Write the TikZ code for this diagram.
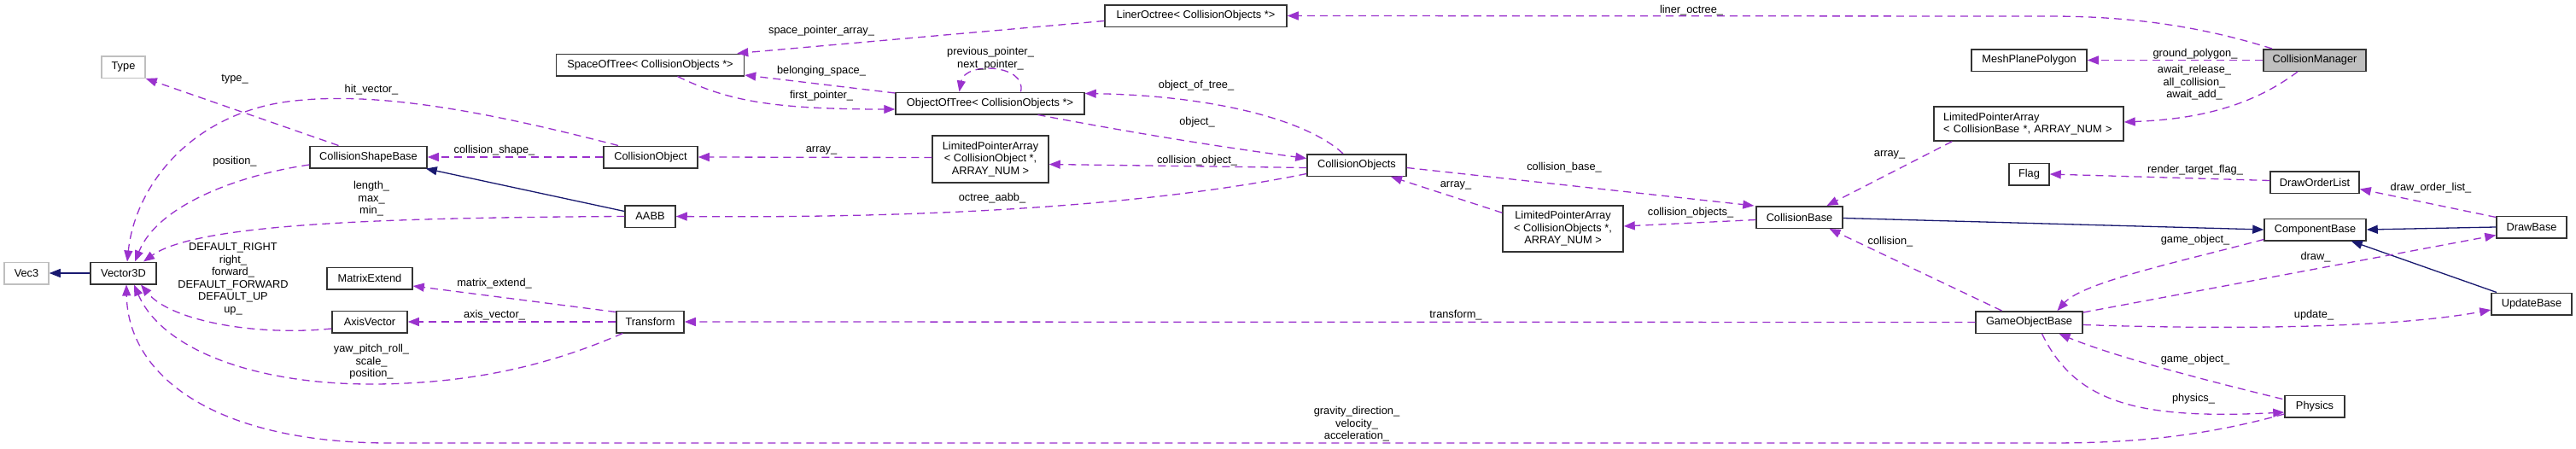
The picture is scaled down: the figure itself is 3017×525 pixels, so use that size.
\documentclass[tikz,border=0pt]{standalone}
\usepackage{fontspec}
\setmainfont{Liberation Sans}
\usetikzlibrary{arrows.meta,calc}
\definecolor{dpurple}{HTML}{9A32CD}
\definecolor{navyc}{HTML}{191970}
\definecolor{greyseventyfive}{HTML}{BFBFBF}
\newcommand{\dgfont}{\fontsize{12.8}{14.5}\selectfont}
\begin{document}
\begin{tikzpicture}[x=1pt,y=-1pt,
 box/.style={draw=black!80, line width=1.5pt, fill=white, inner sep=0pt, minimum height=25.5pt, font=\dgfont, align=center},
 gbox/.style={box, draw=greyseventyfive},
 lbl/.style={font=\dgfont, align=center, inner sep=0pt},
 mem/.style={draw=dpurple, line width=1.3pt, dash pattern=on 9pt off 6pt, -{Triangle[length=13pt,width=10pt]}},
 inh/.style={draw=navyc, line width=1.3pt, -{Triangle[length=13pt,width=10pt]}},
]
\fill[white] (0,0) rectangle (3017,525);
\useasboundingbox (0,0) rectangle (3017,525);

% nodes
\node[gbox, minimum width=52] (vec3) at (31,320) {Vec3};
\node[box, minimum width=77] (v3d) at (144.5,320) {Vector3D};
\node[gbox, minimum width=51] (type) at (144.5,78.5) {Type};
\node[box, minimum width=137] (csb) at (431.5,184) {CollisionShapeBase};
\node[box, minimum width=100] (mext) at (433,326) {MatrixExtend};
\node[box, minimum width=88] (axv) at (433,377) {AxisVector};
\node[box, minimum width=220] (sot) at (761.5,76) {SpaceOfTree< CollisionObjects *>};
\node[box, minimum width=110] (cobj) at (762,184) {CollisionObject};
\node[box, minimum width=59] (aabb) at (761.5,253.5) {AABB};
\node[box, minimum width=79] (trf) at (761.5,377) {Transform};
\node[box, minimum width=213] (lot) at (1400.5,18.5) {LinerOctree< CollisionObjects *>};
\node[box, minimum width=221] (oot) at (1159.5,121) {ObjectOfTree< CollisionObjects *>};
\node[box, minimum width=136, minimum height=55] (lpaco) at (1160,186.5) {LimitedPointerArray\\< CollisionObject *,\\ ARRAY\_NUM >};
\node[box, minimum width=116] (cos) at (1589,193.5) {CollisionObjects};
\node[box, minimum width=141, minimum height=54] (lpacos) at (1830.5,268) {LimitedPointerArray\\< CollisionObjects *,\\ ARRAY\_NUM >};
\node[box, minimum width=101] (cb) at (2107.5,254.5) {CollisionBase};
\node[box, minimum width=222, minimum height=40, text width=200, align=left] (lpacb) at (2376,145) {LimitedPointerArray\\< CollisionBase *, ARRAY\_NUM >};
\node[box, minimum width=135] (mpp) at (2376.5,70.5) {MeshPlanePolygon};
\node[box, minimum width=120, fill=greyseventyfive] (cm) at (2711,70.5) {CollisionManager};
\node[box, minimum width=47] (flag) at (2376.5,204) {Flag};
\node[box, minimum width=104] (dol) at (2711,213.5) {DrawOrderList};
\node[box, minimum width=119] (compb) at (2711.5,269) {ComponentBase};
\node[box, minimum width=82] (db) at (2965,266) {DrawBase};
\node[box, minimum width=94] (ub) at (2965,356) {UpdateBase};
\node[box, minimum width=125] (gob) at (2376.5,377.5) {GameObjectBase};
\node[box, minimum width=70] (phys) at (2711,476) {Physics};

% inheritance
\draw[inh] (v3d.west) -- (vec3.east);
\draw[inh] ($(aabb.west)+(0,-6)$) -- ($(csb.south east)+(-2,0)$);
\draw[inh] ($(cb.east)+(0,1)$) -- (compb.west);
\draw[inh] (db.west) -- (compb.east);
\draw[inh] ($(ub.north)+(-41,0)$) -- ($(compb.south east)+(-18,0)$);

% members
\draw[mem] ($(csb.north)+(-35,0)$) -- (type.south east);
\draw[mem] ($(cobj.north)+(-38,0)$) .. controls (560,128) and (430,105) .. (330,120) .. controls (220,138) and (158,220) .. ($(v3d.north)+(4.5,0)$);
\draw[mem] ($(csb.west)+(0,9)$) .. controls (280,205) and (185,240) .. ($(v3d.north)+(13.5,0)$);
\draw[mem] (aabb.west) .. controls (450,255) and (230,262) .. ($(v3d.north)+(23.5,0)$);
\draw[mem] (cobj.west) -- (csb.east);
\draw[mem] ($(lpaco.west)+(0,-2)$) -- (cobj.east);
\draw[mem] ($(cos.west)+(0,10)$) .. controls (1350,240) and (1100,256) .. (aabb.east);
\draw[mem] ($(cos.north)+(-16,0)$) .. controls (1530,140) and (1420,112) .. ($(oot.north east)+(0,2)$);
\draw[mem] ($(oot.south)+(56,0)$) .. controls (1350,160) and (1450,175) .. ($(cos.west)+(0,-8)$);
\draw[mem] ($(cos.west)+(0,3)$) -- ($(lpaco.east)+(0,6)$);
\draw[mem] ($(oot.north)+(36,0)$) .. controls (1203,75) and (1130,72) .. ($(oot.north)+(-36,0)$);
\draw[mem] ($(oot.west)+(0,-12)$) -- ($(sot.east)+(0,12)$);
\draw[mem] ($(sot.south)+(32,0)$) .. controls (850,117) and (900,128) .. ($(oot.west)+(0,7)$);
\draw[mem] ($(lot.west)+(0,6)$) -- ($(sot.north east)+(-9,0)$);
\draw[mem] ($(cm.north)+(-50,0)$) .. controls (2560,25) and (2470,19) .. (2400,19) -- (lot.east);
\draw[mem] (cm.west) -- (mpp.east);
\draw[mem] ($(cm.south)+(-20,0)$) .. controls (2630,130) and (2560,140) .. ($(lpacb.east)+(0,-2)$);
\draw[mem] ($(lpacb.south west)+(22,0)$) -- ($(cb.north)+(32,0)$);
\draw[mem] ($(cos.east)+(0,3)$) -- ($(cb.north west)+(-2,0)$);
\draw[mem] ($(cb.west)+(0,3)$) -- ($(lpacos.east)+(0,-3)$);
\draw[mem] ($(lpacos.north west)+(0,9)$) -- ($(cos.south)+(40,0)$);
\draw[mem] ($(db.north west)+(0,2)$) -- ($(dol.east)+(0,8)$);
\draw[mem] ($(dol.west)+(0,-2)$) -- (flag.east);
\draw[mem] ($(gob.north)+(-32,0)$) -- ($(cb.south)+(35,0)$);
\draw[mem] ($(compb.south west)+(0,-2)$) .. controls (2560,305) and (2440,330) .. ($(gob.north)+(33,0)$);
\draw[mem] ($(gob.north east)+(0,2)$) -- ($(db.south west)+(0,-4)$);
\draw[mem] ($(gob.east)+(0,3)$) .. controls (2600,386) and (2800,385) .. ($(ub.west)+(0,7)$);
\draw[mem] ($(phys.north west)+(-2,5)$) .. controls (2560,440) and (2470,415) .. ($(gob.south)+(35,0)$);
\draw[mem] ($(gob.south)+(15,0)$) .. controls (2430,470) and (2500,492) .. ($(phys.west)+(0,7)$);
\draw[mem] (gob.west) -- (trf.east);
\draw[mem] ($(trf.north west)+(0,2)$) -- ($(mext.east)+(0,9)$);
\draw[mem] (trf.west) -- (axv.east);
\draw[mem] ($(axv.west)+(0,8)$) .. controls (300,394) and (200,376) .. ($(v3d.south)+(20.5,0)$);
\draw[mem] ($(trf.south west)+(8,0)$) .. controls (650,425) and (560,449) .. (440,450) .. controls (300,451) and (190,410) .. ($(v3d.south)+(12.5,0)$);
\draw[mem] ($(phys.west)+(0,9)$) .. controls (2550,520) and (2450,519) .. (2380,519) -- (450,519) .. controls (250,517) and (150,440) .. ($(v3d.south)+(3.5,0)$);

% labels
\node[lbl] (l1) at (275,93) {type\_};
\node[lbl] (l2) at (435,105) {hit\_vector\_};
\node[lbl] (l3) at (275,189) {position\_};
\node[lbl] (l4) at (435,233) {length\_\\max\_\\min\_};
\node[lbl] (l5) at (273,327) {DEFAULT\_RIGHT\\right\_\\forward\_\\DEFAULT\_FORWARD\\DEFAULT\_UP\\up\_};
\node[lbl] (l6) at (435,424) {yaw\_pitch\_roll\_\\scale\_\\position\_};
\node[lbl] (l7) at (579,176) {collision\_shape\_};
\node[lbl] (l8) at (579,332) {matrix\_extend\_};
\node[lbl] (l9) at (579,369) {axis\_vector\_};
\node[lbl] (l10) at (962,36) {space\_pointer\_array\_};
\node[lbl] (l11) at (962,83) {belonging\_space\_};
\node[lbl] (l12) at (962,112) {first\_pointer\_};
\node[lbl] (l13) at (962,176) {array\_};
\node[lbl] (l14) at (1160,68.5) {previous\_pointer\_\\next\_pointer\_};
\node[lbl] (l15) at (1401,100) {object\_of\_tree\_};
\node[lbl] (l16) at (1402,143) {object\_};
\node[lbl] (l17) at (1402,188) {collision\_object\_};
\node[lbl] (l18) at (1162,232) {octree\_aabb\_};
\node[lbl] (l19) at (1981,12) {liner\_octree\_};
\node[lbl] (l20) at (1832,196) {collision\_base\_};
\node[lbl] (l21) at (1705,217) {array\_};
\node[lbl] (l22) at (1980,249) {collision\_objects\_};
\node[lbl] (l23) at (2213,181) {array\_};
\node[lbl] (l24) at (2571,63) {ground\_polygon\_};
\node[lbl] (l25) at (2570,97) {await\_release\_\\all\_collision\_\\await\_add\_};
\node[lbl] (l26) at (2571,199) {render\_target\_flag\_};
\node[lbl] (l27) at (2847,220) {draw\_order\_list\_};
\node[lbl] (l28) at (2214,283) {collision\_};
\node[lbl] (l29) at (2571,281) {game\_object\_};
\node[lbl] (l30) at (2712,301) {draw\_};
\node[lbl] (l31) at (2710,369) {update\_};
\node[lbl] (l32) at (2571,421) {game\_object\_};
\node[lbl] (l33) at (2569,467) {physics\_};
\node[lbl] (l34) at (1705,369) {transform\_};
\node[lbl] (l35) at (1589,497) {gravity\_direction\_\\velocity\_\\acceleration\_};
\end{tikzpicture}
\end{document}
